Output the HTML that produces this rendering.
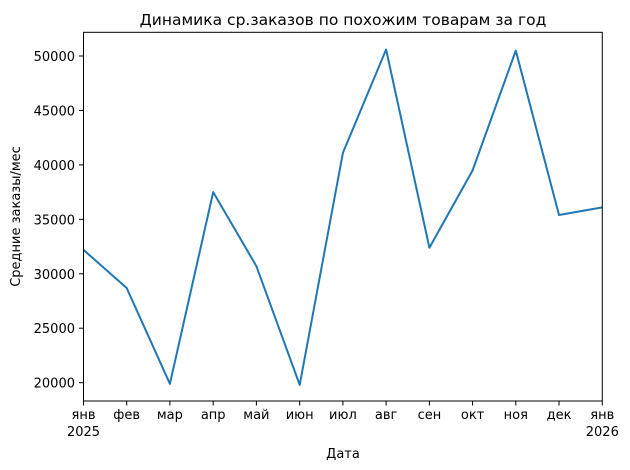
<!DOCTYPE html>
<html><head><meta charset="utf-8"><style>body{margin:0;background:#fff}svg{display:block}</style></head><body>
<svg width="630" height="470" xmlns="http://www.w3.org/2000/svg" font-family="DejaVu Sans, Liberation Sans, sans-serif" font-size="13.3" fill="#000">
<rect width="630" height="470" fill="#fff"/>
<polyline fill="none" stroke="#1f77b4" stroke-width="2" stroke-linejoin="round" points="83.5,249.9 126.7,288 169.9,383.8 213.2,192.1 256.4,266.2 299.7,384.9 342.9,152.9 386.1,49.5 429.4,247.7 472.6,170.4 515.8,50.6 559,215 602.3,207.4"/>
<rect x="83.5" y="32.3" width="518.8" height="368.7" fill="none" stroke="#000" stroke-width="1"/>
<g stroke="#000">
<line x1="79" x2="83.5" y1="56" y2="56"/><line x1="79" x2="83.5" y1="110.4" y2="110.4"/><line x1="79" x2="83.5" y1="164.9" y2="164.9"/><line x1="79" x2="83.5" y1="219.3" y2="219.3"/><line x1="79" x2="83.5" y1="273.8" y2="273.8"/><line x1="79" x2="83.5" y1="328.2" y2="328.2"/><line x1="79" x2="83.5" y1="382.7" y2="382.7"/>
<g transform="translate(0,401)">
<line x1="83.5" x2="83.5" y2="4.5"/><line x1="126.7" x2="126.7" y2="4.5"/><line x1="169.9" x2="169.9" y2="4.5"/><line x1="213.2" x2="213.2" y2="4.5"/><line x1="256.4" x2="256.4" y2="4.5"/><line x1="299.7" x2="299.7" y2="4.5"/><line x1="342.9" x2="342.9" y2="4.5"/><line x1="386.1" x2="386.1" y2="4.5"/><line x1="429.4" x2="429.4" y2="4.5"/><line x1="472.6" x2="472.6" y2="4.5"/><line x1="515.8" x2="515.8" y2="4.5"/><line x1="559" x2="559" y2="4.5"/><line x1="602.3" x2="602.3" y2="4.5"/>
</g></g>
<g text-anchor="end" font-size="13">
<text x="75" y="61">50000</text><text x="75" y="115.4">45000</text><text x="75" y="169.9">40000</text><text x="75" y="224.3">35000</text><text x="75" y="278.8">30000</text><text x="75" y="333.2">25000</text><text x="75" y="387.7">20000</text>
</g>
<g text-anchor="middle" font-size="13">
<text x="83.5" y="419">янв</text><text x="83.5" y="436">2025</text>
<text x="126.7" y="419">фев</text><text x="169.9" y="419">мар</text><text x="213.2" y="419">апр</text><text x="256.4" y="419">май</text><text x="299.7" y="419">июн</text><text x="342.9" y="419">июл</text><text x="386.1" y="419">авг</text><text x="429.4" y="419">сен</text><text x="472.6" y="419">окт</text><text x="515.8" y="419">ноя</text><text x="559" y="419">дек</text>
<text x="602.3" y="419">янв</text><text x="602.3" y="436">2026</text>
<text x="343" y="458">Дата</text>
<text x="343" y="25" font-size="15.5">Динамика ср.заказов по похожим товарам за год</text>
<text transform="translate(20,216.5) rotate(-90)">Средние заказы/мес</text>
</g>
</svg>
</body></html>
